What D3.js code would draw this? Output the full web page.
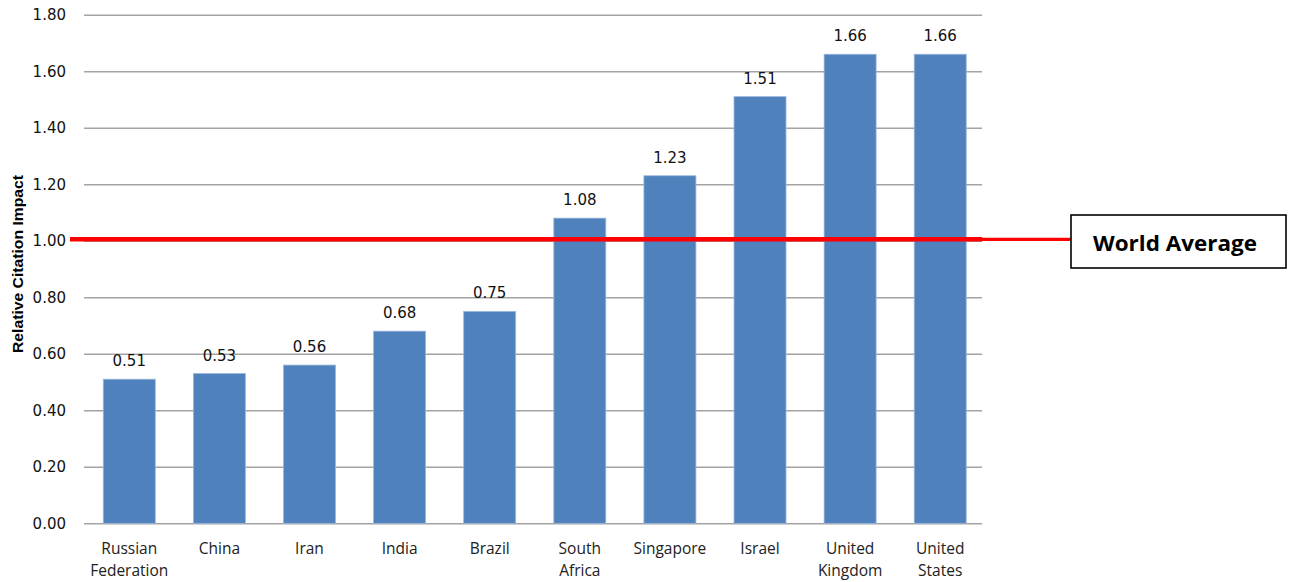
<!DOCTYPE html>
<html>
<head>
<meta charset="utf-8">
<script src="https://cdn.jsdelivr.net/npm/d3@7"></script>
<style>
  html, body { margin: 0; padding: 0; background: #fff; }
  svg { display: block; }
</style>
</head>
<body>
<svg id="chart" width="1292" height="582"></svg>
<script>
const categories = [
  ["Russian", "Federation"], ["China"], ["Iran"], ["India"], ["Brazil"],
  ["South", "Africa"], ["Singapore"], ["Israel"], ["United", "Kingdom"], ["United", "States"]
];
const values = [0.51, 0.53, 0.56, 0.68, 0.75, 1.08, 1.23, 1.51, 1.66, 1.66];
const yTicks = [0, 0.2, 0.4, 0.6, 0.8, 1.0, 1.2, 1.4, 1.6, 1.8];
const worldAverage = 1.005;
const yTitle = "Relative Citation Impact";
const refLabel = "World Average";

const svg = d3.select("#chart");
const mLeft = 84, mRight = 982, mTop = 14.7, mBottom = 523.3;

const keys = categories.map(c => c.join(" "));
const x = d3.scaleBand().domain(keys).range([mLeft, 985.5]).paddingInner(0.423).paddingOuter(0.214);
const y = d3.scaleLinear().domain([0, 1.8]).range([mBottom, mTop]);

// gridlines
const yAxis = d3.axisLeft(y).tickValues(yTicks).tickFormat(d3.format(".2f"))
  .tickSize(-(mRight - mLeft)).tickPadding(18);
const gy = svg.append("g").attr("transform", `translate(${mLeft},0)`).call(yAxis);
gy.select(".domain").remove();
gy.selectAll(".tick line").attr("stroke", "#a3a3a3").attr("stroke-width", 1.5);
gy.selectAll(".tick text")
  .attr("font-family", "'DejaVu Sans', Verdana, sans-serif")
  .attr("font-size", "15px").attr("fill", "#111");

// bars
svg.append("g").selectAll("rect").data(values).join("rect")
  .attr("x", (d, i) => x(keys[i]))
  .attr("y", d => y(d))
  .attr("width", x.bandwidth())
  .attr("height", d => y(0) - y(d))
  .attr("fill", "#4f81bd")
  .attr("stroke", "#9bb7dc").attr("stroke-width", 0.8);

// data labels
svg.append("g").selectAll("text").data(values).join("text")
  .attr("x", (d, i) => x(keys[i]) + x.bandwidth() / 2)
  .attr("y", d => y(d) - 13)
  .attr("text-anchor", "middle")
  .attr("font-family", "'DejaVu Sans', Verdana, sans-serif")
  .attr("font-size", "15px").attr("fill", "#111")
  .text(d => d3.format(".2f")(d));

// x labels
const xl = svg.append("g").selectAll("text").data(categories).join("text")
  .attr("x", (d, i) => x(keys[i]) + x.bandwidth() / 2)
  .attr("y", 554)
  .attr("text-anchor", "middle")
  .attr("font-family", "'Open Sans', 'Noto Sans', sans-serif")
  .attr("font-size", "15.5px").attr("fill", "#222");
xl.each(function(d) {
  const t = d3.select(this);
  d.forEach((line, j) => {
    t.append("tspan").attr("x", t.attr("x")).attr("dy", j === 0 ? 0 : 22).text(line);
  });
});

// world average line
const boxX = 1071, boxY = 215, boxW = 215, boxH = 53;
svg.append("line")
  .attr("x1", mLeft - 14).attr("x2", mRight)
  .attr("y1", y(worldAverage)).attr("y2", y(worldAverage))
  .attr("stroke", "#ff0000").attr("stroke-width", 4.5);
svg.append("line")
  .attr("x1", mRight).attr("x2", boxX)
  .attr("y1", y(worldAverage)).attr("y2", y(worldAverage))
  .attr("stroke", "#ff0000").attr("stroke-width", 3.2);

svg.append("rect")
  .attr("x", boxX).attr("y", boxY).attr("width", boxW).attr("height", boxH)
  .attr("fill", "#fff").attr("stroke", "#000").attr("stroke-width", 1.6);
svg.append("text")
  .attr("x", 1093).attr("y", 250.5)
  .attr("font-family", "'Open Sans', 'Noto Sans', sans-serif")
  .attr("font-weight", "bold").attr("font-size", "21px").attr("fill", "#000")
  .attr("textLength", 164).attr("lengthAdjust", "spacingAndGlyphs")
  .text(refLabel);

// y title
svg.append("text")
  .attr("transform", `translate(23,264) rotate(-90)`)
  .attr("text-anchor", "middle")
  .attr("font-family", "'Liberation Sans', Arial, sans-serif")
  .attr("font-weight", "bold").attr("font-size", "14px").attr("fill", "#000")
  .attr("textLength", 178).attr("lengthAdjust", "spacingAndGlyphs")
  .text(yTitle);
</script>
</body>
</html>
